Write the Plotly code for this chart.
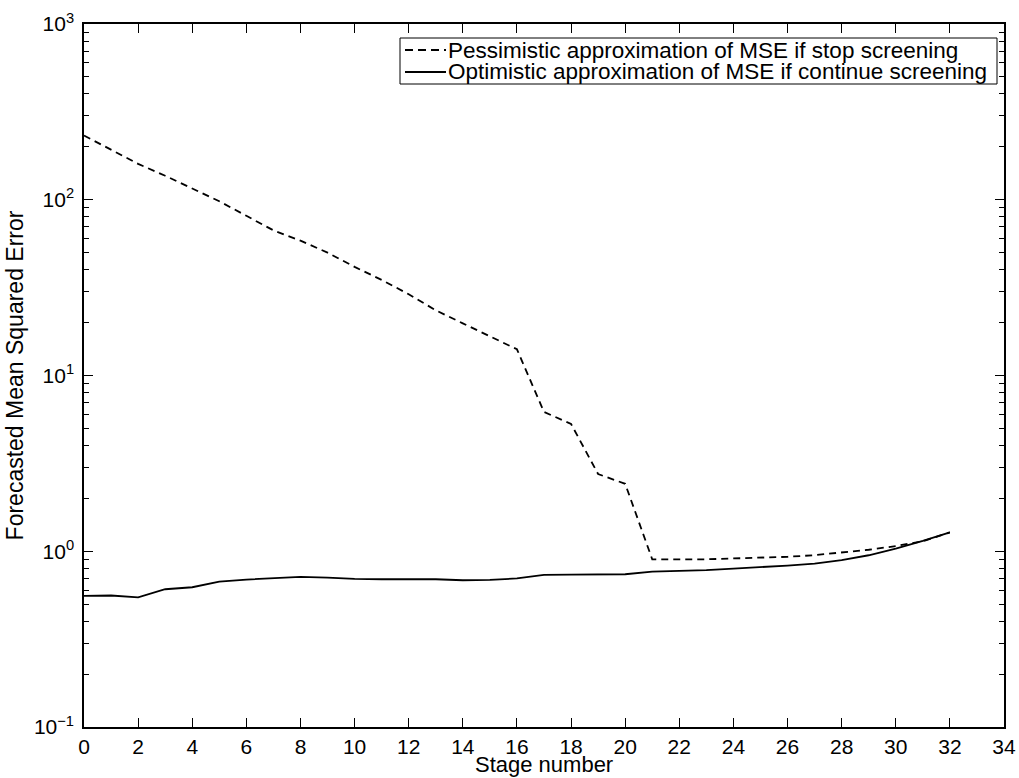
import plotly.graph_objects as go

stages = list(range(0, 33))
pessimistic = [232, 193, 160, 137, 116, 98, 81, 67, 58.5, 50, 41.5, 35, 29, 23.5, 19.8, 16.7, 14.1,
               6.2, 5.3, 2.75, 2.42, 0.9, 0.9, 0.9, 0.91, 0.92, 0.93, 0.95, 0.98, 1.02, 1.07, 1.14, 1.28]
optimistic = [0.557, 0.56, 0.547, 0.608, 0.624, 0.672, 0.69, 0.705, 0.714, 0.708, 0.696, 0.693, 0.696,
              0.693, 0.684, 0.687, 0.70, 0.733, 0.737, 0.74, 0.74, 0.766, 0.773, 0.78, 0.797, 0.811,
              0.829, 0.85, 0.889, 0.949, 1.035, 1.145, 1.28]
series_names = ["Pessimistic approximation of MSE if stop screening",
                "Optimistic approximation of MSE if continue screening"]
series_dash = ["7px,5px", "solid"]

x_ticks = list(range(0, 35, 2))
y_major = [0.1, 1, 10, 100, 1000]
y_minor = [m * 10.0 ** e for e in range(-1, 3) for m in range(2, 10)]

W, H = 1019, 778
L, R, T, B = 84, 15, 24, 51
PW, PH = W - L - R, H - T - B


def px_x(px):
    return (px - L) / PW


def px_y(py):
    return (H - B - py) / PH


fig = go.Figure()
for yv, nm, ds in zip([pessimistic, optimistic], series_names, series_dash):
    fig.add_trace(go.Scatter(x=stages, y=yv, mode="lines", name=nm, showlegend=False,
                             line=dict(color="black", width=1.8, dash=ds)))

# manual legend (compact, like the reference)
shapes = [dict(type="rect", xref="paper", yref="paper",
               x0=px_x(400), x1=px_x(997), y0=px_y(84), y1=px_y(38),
               line=dict(color="black", width=1), fillcolor="white", layer="above")]
annotations = []
row_y = [50, 72]
for ry, nm, ds in zip(row_y, series_names, series_dash):
    shapes.append(dict(type="line", xref="paper", yref="paper",
                       x0=px_x(405), x1=px_x(446), y0=px_y(ry), y1=px_y(ry),
                       line=dict(color="black", width=1.8,
                                 dash="8px,5px" if ds != "solid" else "solid"),
                       layer="above"))
    annotations.append(dict(xref="paper", yref="paper", x=px_x(447), y=px_y(ry),
                            xanchor="left", yanchor="middle", showarrow=False,
                            text=nm, font=dict(size=22.5, color="black"),
                            borderpad=0))

# x-axis title
annotations.append(dict(xref="paper", yref="paper", x=0.5, y=px_y(778),
                        xanchor="center", yanchor="bottom", showarrow=False,
                        text="Stage number", font=dict(size=22, color="black"),
                        borderpad=0))

font = "Liberation Sans, Arial, Helvetica, sans-serif"
fig.update_layout(
    width=W, height=H,
    margin=dict(l=L, r=R, t=T, b=B),
    paper_bgcolor="white", plot_bgcolor="white",
    font=dict(family=font, color="black", size=22),
    showlegend=False,
    shapes=shapes, annotations=annotations,
    xaxis=dict(range=[0, 34], tickmode="array", tickvals=x_ticks,
               ticktext=[str(v) for v in x_ticks], automargin=False,
               ticks="inside", ticklen=9, tickwidth=1, tickcolor="black",
               showline=True, linecolor="black", linewidth=1.5, mirror="allticks",
               showgrid=False, zeroline=False, ticklabelstandoff=0,
               tickfont=dict(size=21)),
    yaxis=dict(type="log", range=[-1, 3], tickmode="array", tickvals=y_major,
               ticktext=["10<sup>\u22121</sup>", "10<sup>0</sup>", "10<sup>1</sup>",
                         "10<sup>2</sup>", "10<sup>3</sup>"], automargin=False,
               ticks="inside", ticklen=9, tickwidth=1, tickcolor="black",
               showline=True, linecolor="black", linewidth=1.5, mirror="allticks",
               showgrid=False, zeroline=False, ticklabelstandoff=4,
               minor=dict(tickmode="array", tickvals=y_minor, ticks="inside",
                          ticklen=5, tickwidth=1, tickcolor="black", showgrid=False),
               tickfont=dict(size=21),
               title=dict(text="Forecasted Mean Squared Error", font=dict(size=23), standoff=4)),
)

fig.write_html("out.html")
